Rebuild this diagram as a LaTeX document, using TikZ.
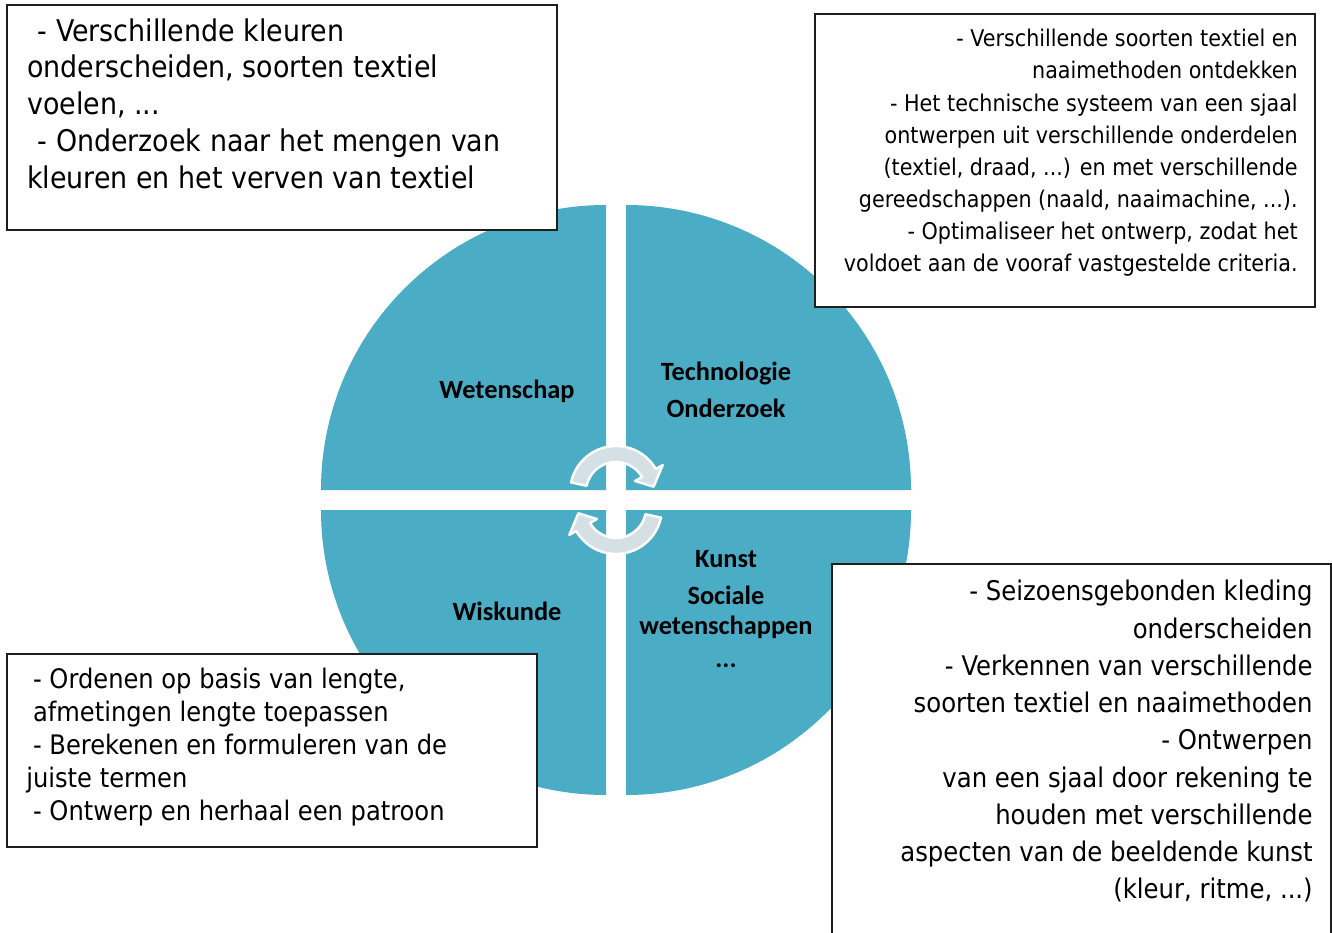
\documentclass[tikz,border=0pt]{standalone}
\usepackage{fontspec}
\setmainfont{DejaVu Sans Condensed}
\newfontfamily\vakfont{Carlito}
\usetikzlibrary{calc}
\definecolor{stembauw}{RGB}{75, 172, 198}
\definecolor{pijlgrijs}{RGB}{212, 224, 228}
\definecolor{randzwart}{RGB}{30, 30, 30}

\begin{document}
\begin{tikzpicture}[x=0.02cm, y=-0.02cm,
  kwadrant/.style={fill=stembauw},
  pijl/.style={fill=pijlgrijs, draw=white, line width=1.4pt, line join=round},
  vak/.style={draw=randzwart, fill=white, line width=1.1pt, inner sep=0pt, anchor=north west},
  vaklabel/.style={font=\vakfont\bfseries\fontsize{15}{21}\selectfont, align=center, inner sep=0pt},
  tekst/.style={inner sep=0pt}
]
  \clip (0,0) rectangle (1332,933);
  \fill[white] (0,0) rectangle (1332,933);

  % vier kwartcirkels
  \foreach \cx/\cy/\a in {606/490/180, 626/490/270, 626/510/0, 606/510/90}
    \fill[kwadrant] (\cx,\cy) -- ++(\a:285) arc[start angle=\a, delta angle=90, radius=285] -- cycle;

  % kringloop-pijlen in het midden
  \foreach \r in {0, 180} {
    \begin{scope}[rotate around={\r:(616,500)}]
      \coordinate (m) at (616,492);
      \fill[pijl] ($(m)+(192:46)$) arc[start angle=192, end angle=330, radius=46]
        -- ($(m)+(330:54)$) -- ($(m)+(352:38)$) -- ($(m)+(330:22)$)
        -- ($(m)+(330:30)$) arc[start angle=330, end angle=192, radius=30] -- cycle;
    \end{scope}
  }

  \node[vaklabel] (wetenschap) at (507,391) {Wetenschap};
  \node[vaklabel] (technologie) at (726,390) {Technologie\\Onderzoek};
  \node[vaklabel] (wiskunde) at (507,611) {Wiskunde};
  \node[vaklabel] (kunst) at (726,609) {Kunst\\Sociale\\[-4pt]wetenschappen\\[-2.6pt]...};

  % tekstvakken
  \node[vak, minimum width=11cm, minimum height=4.5cm] (vak-wet) at (6,4) {};
  \node[tekst, anchor=north west, align=left, font=\fontsize{17}{21}\selectfont] (tekst-wet)
    at (27,18) {\hspace*{0.35em}- Verschillende kleuren\\
    onderscheiden, soorten textiel\\
    voelen, ...\\
    \hspace*{0.35em}- Onderzoek naar het mengen van\\
    kleuren en het verven van textiel};

  \node[vak, minimum width=10cm, minimum height=5.86cm] (vak-tech) at (814,13) {};
  \node[tekst, anchor=north east, align=right, font=\fontsize{13.1}{18.3}\selectfont] (tekst-tech)
    at (1298,29) {- Verschillende soorten textiel en\\
    naaimethoden ontdekken\\
    - Het technische systeem van een sjaal\\
    ontwerpen uit verschillende onderdelen\\
    (textiel, draad, ...) en met verschillende\\
    gereedschappen (naald, naaimachine, ...).\\
    - Optimaliseer het ontwerp, zodat het\\
    voldoet aan de vooraf vastgestelde criteria.};

  \node[vak, minimum width=10.6cm, minimum height=3.86cm] (vak-wis) at (6,653) {};
  \node[tekst, anchor=north west, align=left, font=\fontsize{15.3}{18.7}\selectfont] (tekst-wis)
    at (26,668) {\hspace*{0.25em}- Ordenen op basis van lengte,\\
    \hspace*{0.25em}afmetingen lengte toepassen\\
    \hspace*{0.25em}- Berekenen en formuleren van de\\
    juiste termen\\
    \hspace*{0.25em}- Ontwerp en herhaal een patroon};

  \node[vak, minimum width=9.98cm, minimum height=8cm] (vak-kunst) at (831,563) {};
  \node[tekst, anchor=north east, align=right, font=\fontsize{15.4}{21.2}\selectfont] (tekst-kunst)
    at (1313,580) {- Seizoensgebonden kleding\\
    onderscheiden\\
    - Verkennen van verschillende\\
    soorten textiel en naaimethoden\\
    - Ontwerpen\\
    van een sjaal door rekening te\\
    houden met verschillende\\
    aspecten van de beeldende kunst\\
    (kleur, ritme, ...)};
\end{tikzpicture}
\end{document}
